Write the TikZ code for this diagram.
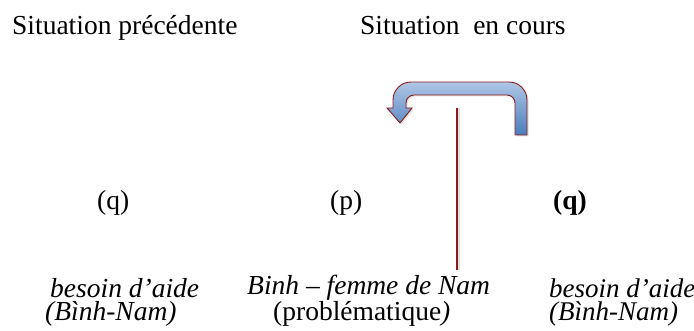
\documentclass[tikz,border=0pt]{standalone}
\usepackage{fontspec}
\setmainfont{Liberation Serif}
\usepackage{tikz}
\usetikzlibrary{shadows}
\usepackage{xcolor}
\definecolor{bordeaux}{HTML}{8C1C1C}
\definecolor{uturntop}{HTML}{AFC6E6}
\definecolor{uturnbot}{HTML}{4A7EBB}

\begin{document}
\begin{tikzpicture}[
    x=1pt, y=-1pt,
    txt/.style={
        anchor=base west,
        inner sep=0pt,
        align=left,
        font=\fontsize{27.5}{22.5}\selectfont,
    },
    uturn/.style={
        draw=bordeaux,
        line width=0.9pt,
        top color=uturntop,
        bottom color=uturnbot,
        drop shadow={opacity=0.25, shadow xshift=1.5pt, shadow yshift=-1.5pt},
    },
]
\useasboundingbox (0,0) rectangle (694,331);

% --- Headings ---
\node[txt] (prev) at (12,35) {Situation précédente};
\node[txt] (cur) at (360,35) {Situation\ \ en cours};

% --- Propositions ---
\node[txt] (qprev) at (97,210) {(q)};
\node[txt] (pcur) at (330,210) {(p)};
\node[txt] (qnext) at (553,210) {\textbf{(q)}};

% --- Descriptions (base = last line) ---
\node[txt] (needprev) at (45,320) {\hspace*{5pt}\textit{besoin d’aide}\\\textit{(Bình-Nam)}};
\node[txt] (wife) at (247,320) {\textit{Binh – femme de Nam}\\\hspace*{26pt}(problématique\textit{)}};
\node[txt, font=\fontsize{27}{22.5}\selectfont] (neednext) at (549,320) {\textit{besoin d’aide}\\\textit{(Bình-Nam)}};

% --- U-turn arrow going back ---
\path[uturn]
    (527,135) -- (527,100) arc[start angle=0, end angle=90, radius=18pt]
    -- (411,82) arc[start angle=90, end angle=180, radius=18pt]
    -- (393,108) -- (387,108) -- (400,123) -- (412,108) -- (406,108)
    -- (406,103) arc[start angle=180, end angle=90, radius=8pt]
    -- (507,95) arc[start angle=90, end angle=0, radius=8pt]
    -- (515,135) -- cycle;

% --- Vertical divider ---
\coordinate (cuttop) at (457,108);
\coordinate (cutbot) at (457,270);
\draw[line width=1.6pt, black!12] ([xshift=2pt]cuttop) -- ([xshift=2pt]cutbot);
\draw[line width=1.6pt, bordeaux] (cuttop) -- (cutbot);

\end{tikzpicture}
\end{document}
